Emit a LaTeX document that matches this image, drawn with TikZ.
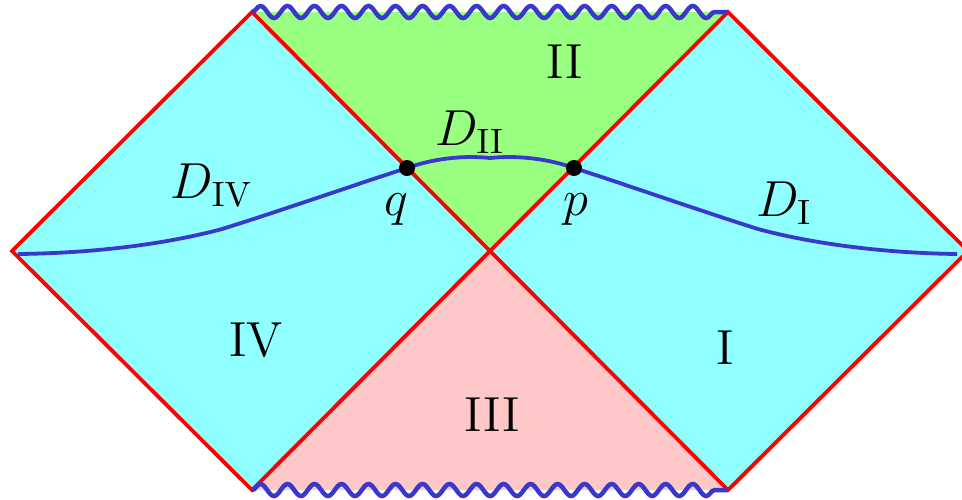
\documentclass[tikz,border=0pt]{standalone}
\usepackage{tikz}
\usetikzlibrary{decorations.pathmorphing}
\definecolor{cyanfill}{HTML}{8FFFFF}
\definecolor{greenfill}{HTML}{99FF80}
\definecolor{pinkfill}{HTML}{FFC8C8}
\definecolor{horizonred}{HTML}{FF0000}
\definecolor{sliceblue}{HTML}{3838CC}
\tikzset{
  horizon/.style={draw=horizonred,line width=0.038cm,line join=miter},
  singular/.style={draw=sliceblue,line width=0.045cm,decorate,decoration={snake,segment length=0.27cm,amplitude=0.06cm}},
  slice/.style={draw=sliceblue,line width=0.038cm},
  dot/.style={circle,fill=black,inner sep=0pt,minimum size=0.16cm},
  region/.style={font=\fontsize{14}{16}\selectfont},
  lbl/.style={font=\fontsize{14}{16}\selectfont}
}

\begin{document}
\begin{tikzpicture}[x=0.01cm,y=-0.01cm]
  \useasboundingbox (0,0) rectangle (962,499);
  % corners of the diagram
  \coordinate (L) at (12,251);
  \coordinate (R) at (968,251);
  \coordinate (C) at (490,251);
  \coordinate (T1) at (252,12);
  \coordinate (T2) at (728,12);
  \coordinate (B1) at (252,490);
  \coordinate (B2) at (728,490);
  % regions
  \fill[cyanfill] (L) -- (T1) -- (C) -- (B1) -- cycle;
  \fill[cyanfill] (C) -- (T2) -- (R) -- (B2) -- cycle;
  \fill[greenfill] (T1) -- (T2) -- (C) -- cycle;
  \fill[pinkfill] (B1) -- (B2) -- (C) -- cycle;
  \draw[horizon] (L) -- (T1) -- (C) -- (B1) -- cycle;
  \draw[horizon] (C) -- (T2) -- (R) -- (B2) -- cycle;
  \draw[singular] (T1) -- (T2);
  \draw[singular] (B1) -- (B2);
  % Cauchy slice
  \coordinate (west) at (18,254);
  \coordinate (east) at (957,254);
  \coordinate (jw) at (222,229);
  \coordinate (je) at (758,229);
  \coordinate (mid) at (490,158);
  \coordinate (q) at (407,168);
  \coordinate (p) at (574,168);
  \draw[slice] (west) .. controls (100,253) and (170,243) .. (jw)
    .. controls (280,211) and (360,183) .. (q)
    .. controls (432,159) and (462,155) .. (mid)
    .. controls (518,155) and (549,159) .. (p)
    .. controls (621,183) and (701,211) .. (je)
    .. controls (810,243) and (880,253) .. (east);
  \node[dot] (qdot) at (q) {};
  \node[dot] (pdot) at (p) {};
  % labels
  \node[region] (rI) at (725,348) {I};
  \node[region] (rII) at (565,62) {II};
  \node[region] (rIII) at (492,415) {III};
  \node[region] (rIV) at (256,340) {IV};
  \node[lbl] (dI) at (784,203) {$D_{\mathrm{I}}$};
  \node[lbl] (dII) at (470,132) {$D_{\mathrm{II}}$};
  \node[lbl] (dIV) at (212,185) {$D_{\mathrm{IV}}$};
  \node[lbl] (lq) at (396,210) {$q$};
  \node[lbl] (lp) at (576,210) {$p$};
\end{tikzpicture}
\end{document}
